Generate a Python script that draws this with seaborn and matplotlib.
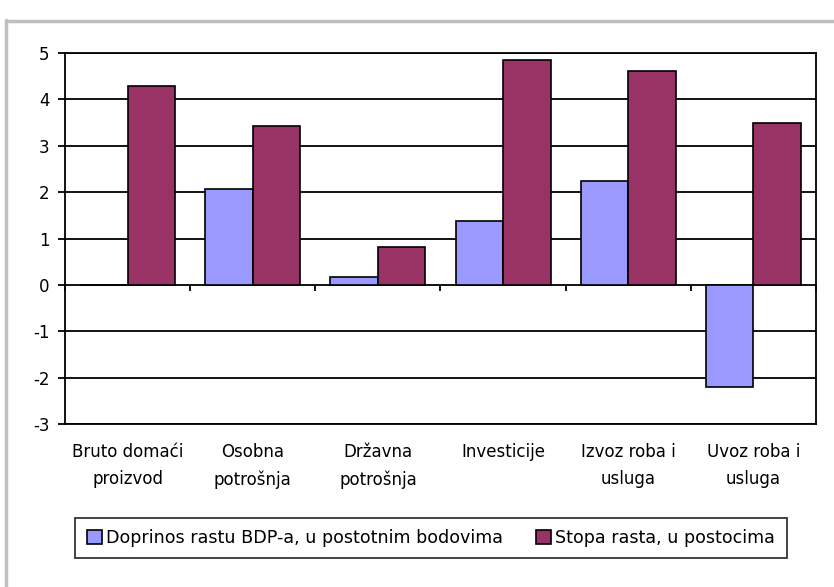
import pandas as pd
import seaborn as sns
import matplotlib.pyplot as plt
from matplotlib.lines import Line2D

categories = ['Bruto domaći\nproizvod', 'Osobna\npotrošnja', 'Državna\npotrošnja',
              'Investicije', 'Izvoz roba i\nusluga', 'Uvoz roba i\nusluga']
doprinos = [0.0, 2.07, 0.17, 1.38, 2.24, -2.2]
stopa = [4.29, 3.42, 0.82, 4.85, 4.61, 3.5]
series = ['Doprinos rastu BDP-a, u postotnim bodovima', 'Stopa rasta, u postocima']
colors = ['#9999FF', '#993366']
yticks = [-3, -2, -1, 0, 1, 2, 3, 4, 5]

df = pd.DataFrame({
    'kategorija': categories * 2,
    'vrijednost': doprinos + stopa,
    'serija': [series[0]] * len(categories) + [series[1]] * len(categories),
})

sns.set_style('white')
plt.rcParams['font.family'] = ['DejaVu Sans']
plt.rcParams['text.color'] = 'black'
plt.rcParams['xtick.color'] = 'black'
plt.rcParams['ytick.color'] = 'black'
plt.rcParams['axes.unicode_minus'] = False

fig = plt.figure(figsize=(8.34, 5.87), dpi=100)
ax = fig.add_axes([65 / 834, 1 - 424 / 587, (816 - 65) / 834, (424 - 53) / 587])

sns.barplot(data=df, x='kategorija', y='vrijednost', hue='serija', palette=colors,
            width=0.76, edgecolor='black', linewidth=1.2, saturation=1, ax=ax)

ax.set_ylim(-3, 5)
ax.set_xlim(-0.5, len(categories) - 0.5)
ax.set_yticks(yticks)
ax.set_yticklabels([str(v) for v in yticks])
ax.yaxis.grid(True, color='black', linewidth=1.3)
ax.set_axisbelow(True)
ax.set_xlabel('')
ax.set_ylabel('')
for s in ax.spines.values():
    s.set_visible(True)
    s.set_color('black')
    s.set_linewidth(1.3)

ax.tick_params(axis='y', left=True, length=5, width=1.3, color='black', pad=6,
               labelsize=12, labelcolor='black')
ax.tick_params(axis='x', bottom=False, length=0, pad=14, labelsize=12, labelcolor='black')
for lbl in ax.get_xticklabels():
    lbl.set_linespacing(1.6)
    lbl.set_verticalalignment('top')

# small tick marks at category boundaries on the zero line
sec = ax.secondary_xaxis(3 / 8)
sec.set_xticks([i - 0.5 for i in range(len(categories) + 1)])
sec.set_xticklabels([])
sec.tick_params(length=4, width=1.3, color='black', direction='out')
sec.spines['bottom'].set_visible(False)

ax.legend_.remove()
handles = [plt.Rectangle((0, 0), 1, 1, facecolor=c, edgecolor='black', linewidth=1.2) for c in colors]
leg = fig.legend(handles, series, loc='center', bbox_to_anchor=(431 / 834, 1 - 538 / 587),
                 ncol=2, frameon=True, fancybox=False, edgecolor='black', fontsize=12.6,
                 handlelength=0.85, handleheight=0.85, handletextpad=0.25, columnspacing=1.9,
                 borderpad=0.65)
leg.get_frame().set_linewidth(1.3)

# gray frame of the original page
fig.add_artist(Line2D([6 / 834, 6 / 834], [0, 1 - 20 / 587], color='#c0c0c0', linewidth=2.5))
fig.add_artist(Line2D([6 / 834, 1], [1 - 21 / 587, 1 - 21 / 587], color='#c0c0c0', linewidth=2.5))

fig.savefig('out.png', dpi=100)
